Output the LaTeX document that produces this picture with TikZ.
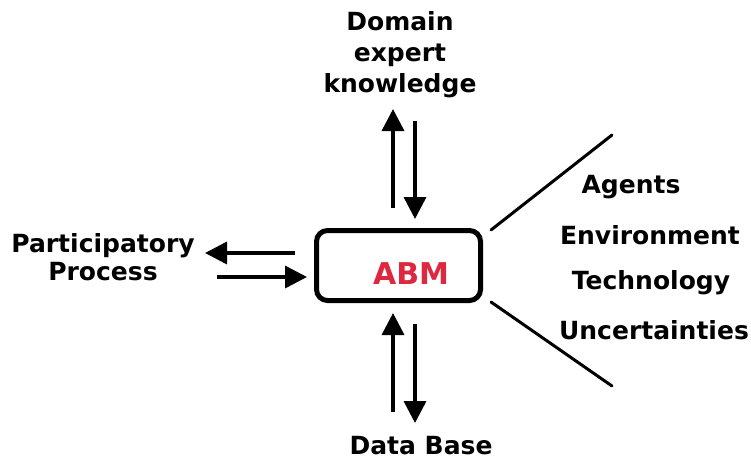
\documentclass[tikz,border=0pt]{standalone}
\usepackage{fontspec}
\setmainfont{DejaVu Sans}
\usetikzlibrary{arrows.meta}
\definecolor{abmred}{RGB}{222,40,64}
\tikzset{
  lbl/.style={font=\bfseries\fontsize{25}{31}\selectfont, align=center, inner sep=0pt, text=black},
  arr/.style={line width=3.5pt, -{Triangle[length=22pt,width=22pt]}},
  spoke/.style={line width=3pt, line cap=round},
  abmbox/.style={draw, line width=5pt, rounded corners=11pt, minimum width=164pt, minimum height=70pt, inner sep=0pt}
}
\begin{document}
\begin{tikzpicture}[x=1pt,y=-1pt]
\useasboundingbox (0,0) rectangle (751,461);
\node[abmbox] (box) at (398.5,265.5) {};
\node[font=\bfseries\fontsize{30}{30}\selectfont, text=abmred, inner sep=0pt] (abm) at (411,274) {ABM};

\node[lbl] (dek) at (400,55) {Domain\\expert\\knowledge};
\node[lbl, font=\bfseries\fontsize{25}{28}\selectfont] (pp) at (103,257) {Participatory\\Process};
\node[lbl] (db) at (421,446) {Data Base};
\node[lbl] (ag) at (631,187) {Agents};
\node[lbl] (en) at (650,235) {Environment};
\node[lbl] (te) at (651,283) {Technology};
\node[lbl] (un) at (654,330) {Uncertainties};

% top arrows
\coordinate (tu0) at (393,208); \coordinate (tu1) at (393,109);
\coordinate (td0) at (415,121); \coordinate (td1) at (415,219);
\draw[arr] (tu0) -- (tu1);
\draw[arr] (td0) -- (td1);
% bottom arrows
\coordinate (bu0) at (393,412); \coordinate (bu1) at (393,313);
\coordinate (bd0) at (415,324); \coordinate (bd1) at (415,423);
\draw[arr] (bu0) -- (bu1);
\draw[arr] (bd0) -- (bd1);
% left arrows
\coordinate (ll0) at (295,253); \coordinate (ll1) at (205,253);
\coordinate (lr0) at (217,277); \coordinate (lr1) at (307,277);
\draw[arr] (ll0) -- (ll1);
\draw[arr] (lr0) -- (lr1);
% right spokes
\coordinate (s1a) at (491,230); \coordinate (s1b) at (612,135);
\coordinate (s2a) at (491,302); \coordinate (s2b) at (612,386);
\draw[spoke] (s1a) -- (s1b);
\draw[spoke] (s2a) -- (s2b);
\end{tikzpicture}
\end{document}
